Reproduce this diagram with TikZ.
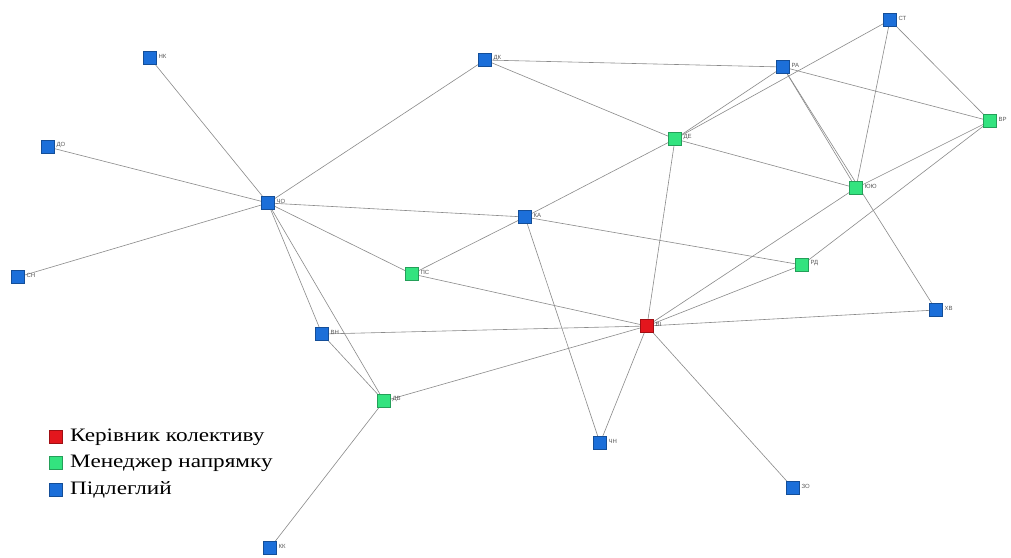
\documentclass[tikz,border=0pt]{standalone}
\usepackage{fontspec}
\setmainfont{Liberation Serif}
\newfontfamily\lblfont{Liberation Sans}
\definecolor{cblue}{HTML}{1C6FD9}
\definecolor{cgreen}{HTML}{33E37F}
\definecolor{cred}{HTML}{E3161D}
\definecolor{cedge}{HTML}{8A8A8A}
\pgfdeclarelayer{paper}
\pgfdeclarelayer{links}
\pgfsetlayers{paper,links,main}
\begin{document}
\begin{tikzpicture}[x=1pt,y=-1pt,
  member/.style 2 args={draw=#1!70!black,fill=#1,minimum size=13pt,inner sep=0pt,line width=0.6pt,
    label={[font=\lblfont\fontsize{6}{6}\selectfont,text=gray!70!black,inner sep=0.5pt,anchor=west,xshift=1pt,yshift=2pt]east:#2}},
  link/.style={draw=cedge,line width=0.6pt},
  legsq/.style={draw=#1!70!black,fill=#1,minimum size=13pt,inner sep=0pt,line width=0.6pt},
  legtext/.style={anchor=west,font=\fontsize{19}{19}\selectfont,inner sep=0pt,xscale=1.22,transform shape}]
\useasboundingbox (0,0) rectangle (1011,557);
\begin{pgfonlayer}{paper}
\fill[white] (0,0) rectangle (1011,557);
\end{pgfonlayer}
% team members
\node[member={cblue}{НК}] (nk) at (150,58) {};
\node[member={cblue}{ДО}] (do) at (48,147) {};
\node[member={cblue}{СН}] (sn) at (18,277) {};
\node[member={cblue}{ЧО}] (cho) at (268,203) {};
\node[member={cblue}{ВН}] (vn) at (322,334) {};
\node[member={cgreen}{ДВ}] (dv) at (384,401) {};
\node[member={cblue}{КК}] (kk) at (270,548) {};
\node[member={cgreen}{ПС}] (ps) at (412,274) {};
\node[member={cblue}{КА}] (ka) at (525,217) {};
\node[member={cblue}{ДК}] (dk) at (485,60) {};
\node[member={cgreen}{ДЕ}] (de) at (675,139) {};
\node[member={cblue}{РА}] (ra) at (783,67) {};
\node[member={cblue}{СТ}] (st) at (890,20) {};
\node[member={cgreen}{ВР}] (vr) at (990,121) {};
\node[member={cgreen}{ЮЮ}] (yu) at (856,188) {};
\node[member={cgreen}{РД}] (rd) at (802,265) {};
\node[member={cred}{ВІ}] (vi) at (647,326) {};
\node[member={cblue}{ХВ}] (hv) at (936,310) {};
\node[member={cblue}{ЧН}] (chn) at (600,443) {};
\node[member={cblue}{ЗО}] (zo) at (793,488) {};
% links between members
\begin{pgfonlayer}{links}
\foreach \a/\b in {nk/cho,do/cho,sn/cho,cho/dk,cho/ka,cho/ps,cho/vn,cho/dv,vn/dv,
  vn/vi,dv/vi,dv/kk,ps/vi,ps/ka,ka/de,ka/rd,ka/chn,dk/ra,dk/de,de/ra,de/st,de/yu,de/vi,
  ra/vr,ra/yu,ra/hv,st/yu,st/vr,vr/yu,vr/rd,yu/vi,rd/vi,vi/hv,vi/chn,vi/zo}
  \draw[link] (\a.center) -- (\b.center);
\end{pgfonlayer}
% legend
\node[legsq=cred] (lr) at (56,437) {};
\node[legtext] (lrt) at (70,437) {Керівник колективу};
\node[legsq=cgreen] (lg) at (56,463) {};
\node[legtext] (lgt) at (70,463) {Менеджер напрямку};
\node[legsq=cblue] (lb) at (56,490) {};
\node[legtext] (lbt) at (70,490) {Підлеглий};
\end{tikzpicture}
\end{document}
